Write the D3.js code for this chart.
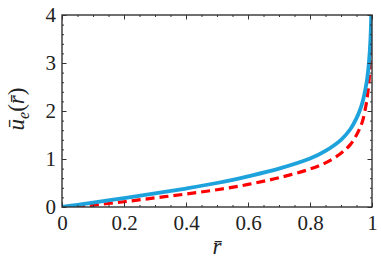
<!DOCTYPE html>
<html>
<head>
<meta charset="utf-8">
<script src="https://cdn.jsdelivr.net/npm/d3@7"></script>
<style>
  body { margin: 0; background: #fff; }
  svg text { font-family: "Liberation Serif", "DejaVu Serif", serif; fill: #222; }
</style>
</head>
<body>
<svg id="chart"></svg>
<script>
// values
const rValues = [0, 0.05, 0.1, 0.2, 0.3, 0.4, 0.5, 0.6, 0.7, 0.8, 0.85, 0.9, 0.93, 0.95, 0.96, 0.97, 0.98, 0.985, 0.99, 0.995, 0.998, 1.0];
const blueValues = [0, 0.046, 0.092, 0.186, 0.282, 0.385, 0.5, 0.64, 0.8, 1.01, 1.17, 1.4, 1.62, 1.85, 2.0, 2.2, 2.5, 2.7, 3.0, 3.5, 4.1, 4.6];
const redValues = [0, 0.015, 0.04, 0.11, 0.19, 0.27, 0.36, 0.47, 0.61, 0.79, 0.92, 1.12, 1.3, 1.5, 1.63, 1.8, 2.1, 2.3, 2.6, 3.1, 3.6, 4.5];
const xTicks = [0, 0.2, 0.4, 0.6, 0.8, 1];
const yTicks = [0, 1, 2, 3, 4];

function drawChart() {
    const width = 381, height = 260;
    const margin = { top: 15, right: 9, bottom: 53, left: 62 };

    const svg = d3.select('#chart')
        .attr('width', width)
        .attr('height', height);

    const x = d3.scaleLinear().domain([0, 1]).range([margin.left, width - margin.right]);
    const y = d3.scaleLinear().domain([0, 4]).range([height - margin.bottom, margin.top]);

    // clip the curves to the frame
    svg.append('clipPath').attr('id', 'clip')
        .append('rect')
        .attr('x', x(0)).attr('y', y(4))
        .attr('width', x(1) - x(0)).attr('height', y(0) - y(4));

    const line = d3.line()
        .x(d => x(d[0]))
        .y(d => y(d[1]))
        .curve(d3.curveCatmullRom.alpha(0.5));

    const plot = svg.append('g').attr('clip-path', 'url(#clip)');

    plot.append('path')
        .datum(rValues.map((r, i) => [r, redValues[i]]))
        .attr('d', line)
        .attr('fill', 'none')
        .attr('stroke', '#ff0000')
        .attr('stroke-width', 3.2)
        .attr('stroke-dasharray', '9,5');

    plot.append('path')
        .datum(rValues.map((r, i) => [r, blueValues[i]]))
        .attr('d', line)
        .attr('fill', 'none')
        .attr('stroke', '#1da2dc')
        .attr('stroke-width', 3.8);

    // frame axes with ticks pointing inward
    const frameColor = '#333';
    const xMinor = d3.range(0, 1.0001, 0.05);
    const yMinor = d3.range(0, 4.0001, 0.2);

    svg.append('g')
        .attr('transform', `translate(0,${y(0)})`)
        .call(d3.axisBottom(x).tickValues(xMinor).tickSize(-2).tickFormat(''));
    svg.append('g')
        .attr('transform', `translate(0,${y(0)})`)
        .call(d3.axisBottom(x).tickValues(xTicks).tickSize(-4.5).tickPadding(8)
            .tickFormat(d => d === 0 || d === 1 ? d3.format('d')(d) : d3.format('.1f')(d)));
    svg.append('g')
        .attr('transform', `translate(0,${y(4)})`)
        .call(d3.axisTop(x).tickValues(xMinor).tickSize(-2).tickFormat(''));
    svg.append('g')
        .attr('transform', `translate(0,${y(4)})`)
        .call(d3.axisTop(x).tickValues(xTicks).tickSize(-4.5).tickFormat(''));

    svg.append('g')
        .attr('transform', `translate(${x(0)},0)`)
        .call(d3.axisLeft(y).tickValues(yMinor).tickSize(-2).tickFormat(''));
    svg.append('g')
        .attr('transform', `translate(${x(0)},0)`)
        .call(d3.axisLeft(y).tickValues(yTicks).tickSize(-4.5).tickPadding(6).tickFormat(d3.format('d')));
    svg.append('g')
        .attr('transform', `translate(${x(1)},0)`)
        .call(d3.axisRight(y).tickValues(yMinor).tickSize(-2).tickFormat(''));
    svg.append('g')
        .attr('transform', `translate(${x(1)},0)`)
        .call(d3.axisRight(y).tickValues(yTicks).tickSize(-4.5).tickFormat(''));

    svg.selectAll('.domain').remove();
    svg.selectAll('.tick line').attr('stroke', frameColor).attr('stroke-width', 1);
    svg.selectAll('.tick text')
        .style('font-size', '21px')
        .attr('fill', '#222');

    svg.append('rect')
        .attr('x', x(0)).attr('y', y(4))
        .attr('width', x(1) - x(0)).attr('height', y(0) - y(4))
        .attr('fill', 'none')
        .attr('stroke', frameColor)
        .attr('stroke-width', 1.4);

    // axis titles
    svg.append('text')
        .attr('x', (x(0) + x(1)) / 2)
        .attr('y', 254)
        .attr('text-anchor', 'middle')
        .style('font-size', '23px')
        .style('font-style', 'italic')
        .text('r\u0304');

    const yLabel = svg.append('text')
        .attr('transform', `translate(24,${(y(0) + y(4)) / 2 - 2}) rotate(-90)`)
        .attr('text-anchor', 'middle')
        .style('font-size', '23px');
    yLabel.append('tspan').style('font-style', 'italic').text('\u016b');
    yLabel.append('tspan').style('font-style', 'italic').style('font-size', '16px').attr('dy', 5).text('e');
    yLabel.append('tspan').attr('dy', -5).text('(');
    yLabel.append('tspan').style('font-style', 'italic').text('r\u0304');
    yLabel.append('tspan').text(')');
}

drawChart();
</script>
</body>
</html>
